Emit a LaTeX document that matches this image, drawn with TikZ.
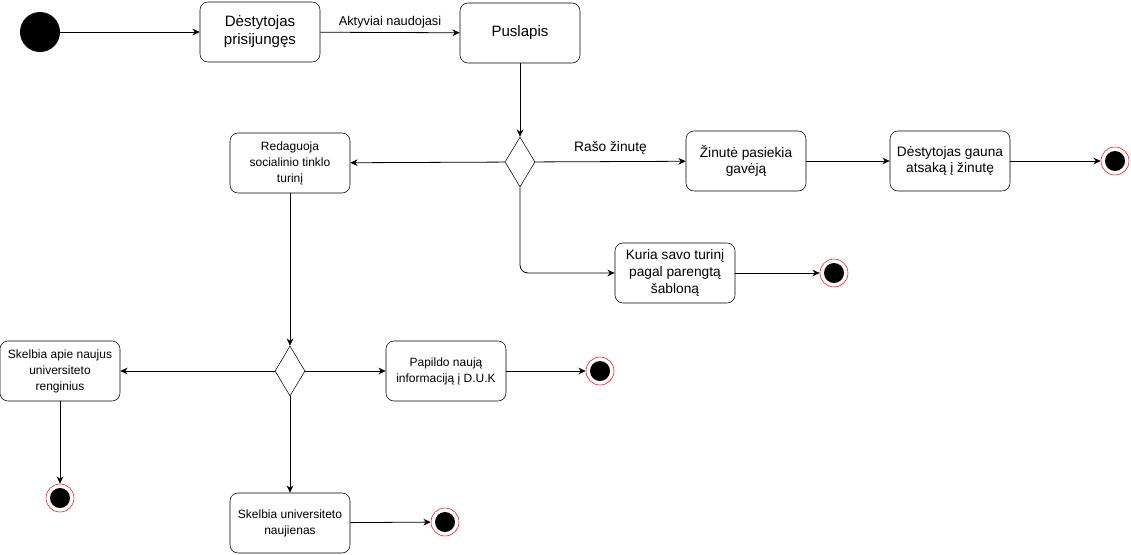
\documentclass[tikz,border=0pt]{standalone}
\usepackage{fontspec}
\setmainfont{Liberation Sans}
\usetikzlibrary{arrows.meta,shapes.geometric}

\begin{document}
\begin{tikzpicture}[x=0.75pt, y=-0.75pt, font=\small,
		state/.style={draw, rounded corners=6pt, minimum width=90pt,
			minimum height=45pt, align=center, inner sep=1pt},
		choice/.style={draw, diamond, minimum width=22.5pt,
			minimum height=37.5pt, inner sep=0pt},
		endstate/.style={circle, draw=red, fill=white, minimum size=21pt,
			inner sep=0pt, path picture={\fill[black]
				(path picture bounding box.center) circle (7.5pt);}},
		flow/.style={-{Stealth[length=5.5pt, width=5pt]}, semithick}]
	\useasboundingbox (0,0) rectangle (1131,554);

	% top row
	\node[circle, fill=black, minimum size=30pt] (start) at (40,32) {};
	\node[state, font=\fontsize{11.3}{13.5}\selectfont] (login) at (260,32)
	{Dėstytojas\\prisijungęs};
	\node[state, font=\fontsize{11.3}{13.5}\selectfont] (page) at (520,33)
	{Puslapis};

	% first choice
	\node[choice] (pick) at (520,162) {};
	\node[state, font=\fontsize{9}{12}\selectfont] (edit) at (290,163)
	{Redaguoja\\socialinio tinklo\\turinį};
	\node[state, font=\fontsize{10.3}{12.5}\selectfont] (msg) at (746,161)
	{Žinutė pasiekia\\gavėją};
	\node[state, font=\fontsize{10.3}{12.5}\selectfont] (reply) at (950,161)
	{Dėstytojas gauna\\atsaką į žinutę};
	\node[endstate] (endA) at (1115,161) {};
	\node[state, font=\fontsize{10.3}{12.5}\selectfont] (tmpl) at (675,273)
	{Kuria savo turinį\\pagal parengtą\\šabloną};
	\node[endstate] (endB) at (834,273) {};

	% second choice
	\node[choice] (post) at (290,371) {};
	\node[state, font=\fontsize{9}{12}\selectfont] (events) at (60,371)
	{Skelbia apie naujus\\universiteto\\renginius};
	\node[endstate] (endC) at (60,498) {};
	\node[state, font=\fontsize{9}{12}\selectfont] (faq) at (446,371)
	{Papildo naują\\informaciją į D.U.K};
	\node[endstate] (endD) at (600,371) {};
	\node[state, font=\fontsize{9}{12}\selectfont] (news) at (290,523)
	{Skelbia universiteto\\naujienas};
	\node[endstate] (endE) at (445,522) {};

	\draw[flow] (start) -- (login);
	\draw[flow] (login) -- node[above, font=\fontsize{9.6}{11}\selectfont] {Aktyviai naudojasi} (page);
	\draw[flow] (page) -- (pick);
	\draw[flow] (pick) -- (edit);
	\draw[flow] (pick) -- node[above=2pt, font=\fontsize{10.3}{12}\selectfont] {Rašo žinutę} (msg);
	\draw[flow] (msg) -- (reply);
	\draw[flow] (reply) -- (endA);
	\draw[flow, rounded corners=6pt] (pick.south) |- (tmpl.west);
	\draw[flow] (tmpl) -- (endB);
	\draw[flow] (edit) -- (post);
	\draw[flow] (post) -- (events);
	\draw[flow] (events) -- (endC);
	\draw[flow] (post) -- (faq);
	\draw[flow] (faq) -- (endD);
	\draw[flow] (post) -- (news);
	\draw[flow] (news) -- (endE);
\end{tikzpicture}
\end{document}
